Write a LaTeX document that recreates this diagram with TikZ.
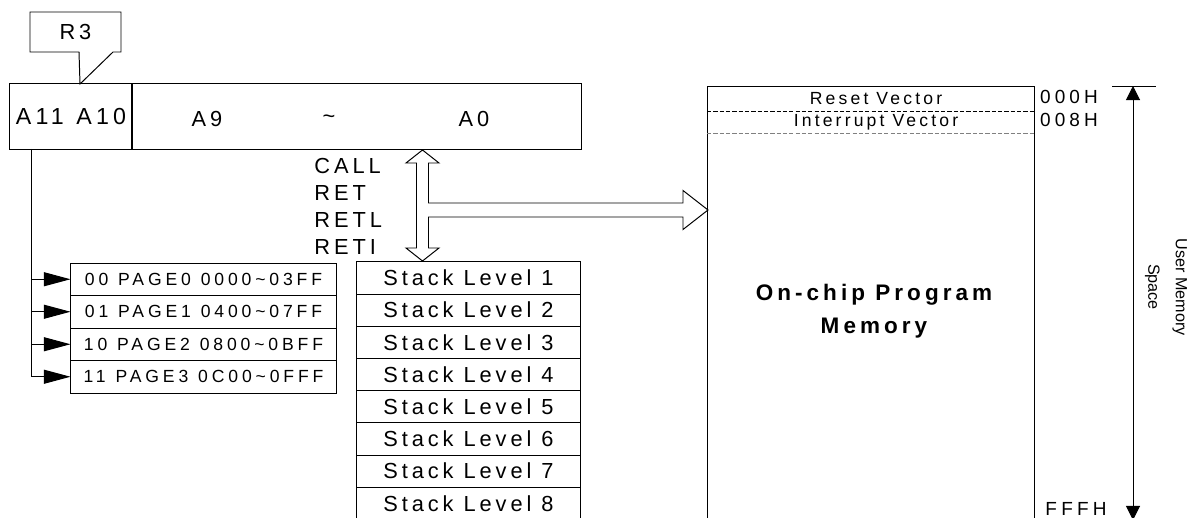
\documentclass[tikz,border=0pt]{standalone}
\usepackage{fontspec}
\setmainfont{Liberation Sans}
\newfontfamily\wide[LetterSpace=18]{Liberation Sans}
\newfontfamily\wider[LetterSpace=22]{Liberation Sans}
\usetikzlibrary{arrows.meta}

\begin{document}
\begin{tikzpicture}[x=0.025cm,y=-0.025cm,line width=0.7pt,>={Triangle[length=19pt,width=10pt]}]
\tikzstyle{big}=[inner sep=0pt,font=\wide\fontsize{15.5pt}{18pt}\selectfont]
\tikzstyle{small}=[inner sep=0pt,font=\wide\fontsize{12.5pt}{14pt}\selectfont]
\tikzstyle{addr}=[inner sep=0pt,font=\wider\fontsize{13.5pt}{15pt}\selectfont]
\tikzstyle{page}=[draw,inner sep=0pt,minimum width=6.625cm,minimum height=0.8125cm,font=\wider\fontsize{12.5pt}{14pt}\selectfont]
\tikzstyle{stack}=[draw,big,minimum width=5.575cm,minimum height=0.805cm]

\useasboundingbox (0,0) rectangle (1193,518);

% R3 callout
\draw (30,12) -- (121,12) -- (121,52) -- (113,52) -- (80,84) -- (79,52) -- (30,52) -- cycle;
\node[big] (R3) at (75.5,32) {R3};

% program counter
\node[draw,big,font=\wide\fontsize{16.5pt}{18pt}\selectfont,minimum width=3.05cm,minimum height=1.625cm] (PCH) at (71,116.5) {A11\hspace{9pt}A10};
\node[draw,minimum width=11.225cm,minimum height=1.625cm] (PCL) at (356.5,116.5) {};
\node[big] (A9) at (207,119) {A9};
\node[big] (TL) at (329,119) {\textasciitilde};
\node[big] (A0) at (474,119) {A0};

% pages
\node[page] (P1) at (203.5,279.25) {00\hspace{7pt}PAGE0\hspace{7pt}0000\textasciitilde03FF};
\node[page] (P2) at (203.5,311.75) {01\hspace{7pt}PAGE1\hspace{7pt}0400\textasciitilde07FF};
\node[page] (P3) at (203.5,344.25) {10\hspace{7pt}PAGE2\hspace{7pt}0800\textasciitilde0BFF};
\node[page] (P4) at (203.5,376.75) {11\hspace{7pt}PAGE3\hspace{7pt}0C00\textasciitilde0FFF};

\coordinate (tap) at (31,149);
\draw[->] (tap) |- (P4.west);
\foreach \i in {1,2,3}
  \draw[->] (tap |- P\i.west) -- (P\i.west);

% stack
\foreach \i in {1,...,8}
  \node[stack] (S\i) at (468.5,{278+32.2*(\i-1)}) {Stack Level \i};

\node[big,anchor=base west] (CALL) at (314,174) {CALL};
\node[big,anchor=base west] (RET) at (314,201) {RET};
\node[big,anchor=base west] (RETL) at (314,228) {RETL};
\node[big,anchor=base west] (RETI) at (314,255) {RETI};

% hollow arrows
\draw (422.5,150) -- (439,163) -- (428.5,163) -- (428.5,203) -- (683,203) -- (683,190.5)
  -- (708,210) -- (683,229.5) -- (683,217) -- (428.5,217) -- (428.5,248) -- (439,248)
  -- (422.5,261) -- (406,248) -- (416.5,248) -- (416.5,163) -- (406,163) -- cycle;

% program memory
\draw (707,520) -- (707,86) -- (1034,86) -- (1034,520);
\draw[dash pattern=on 3pt off 1.5pt] (707,111) -- (1034,111);
\draw[gray,dash pattern=on 3pt off 1.5pt] (707,133) -- (1034,133);
\node[small] (RV) at (876,99) {Reset Vector};
\node[small] (IV) at (876,122) {Interrupt Vector};
\node[inner sep=0pt,align=center,font=\wide\bfseries\fontsize{16pt}{23.5pt}\selectfont] (OCP) at (874,311) {On-chip Program\\Memory};

\node[addr] (H000) at (1069,97) {000H};
\node[addr] (H008) at (1069,120) {008H};
\node[addr] (HFFF) at (1076,509) {FFFH};

% user memory space
\coordinate (top) at (1133,86);
\coordinate (bot) at (1133,520);
\draw (1112,86) -- (1156,86);
\draw[{Triangle[length=10pt,width=10pt]}-{Triangle[length=10pt,width=10pt]}] (top) -- (bot);
\node[rotate=-90,align=center,inner sep=0pt,font=\fontsize{11.5pt}{19.5pt}\selectfont] (UMS) at (1166,287) {User Memory\\Space};

\end{tikzpicture}
\end{document}
